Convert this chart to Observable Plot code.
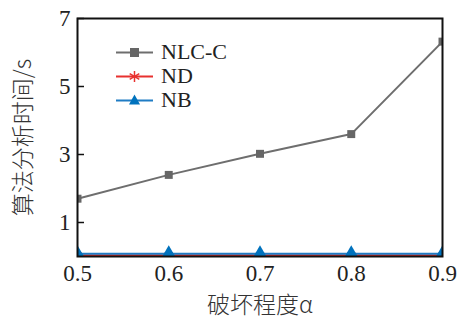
<!DOCTYPE html>
<html>
<head>
<meta charset="utf-8">
<script src="https://cdn.jsdelivr.net/npm/d3@7"></script>
<script src="https://cdn.jsdelivr.net/npm/@observablehq/plot@0.6"></script>
<style>
  html, body { margin: 0; padding: 0; background: #fff; }
  #wrap { position: relative; width: 463px; height: 320px; }
  #legend { position: absolute; left: 116px; top: 40px; font-family: "Liberation Serif", serif; font-size: 22px; color: #222; }
  #legend .row { display: flex; align-items: center; height: 24px; }
  #legend svg { margin-right: 8px; }
</style>
</head>
<body>
<div id="wrap"></div>
<script>
const alphas = [0.5, 0.6, 0.7, 0.8, 0.9];
const nlcc = [1.7, 2.4, 3.02, 3.6, 6.32];
const nd = [0.04, 0.04, 0.04, 0.04, 0.04];
const nb = [0.08, 0.08, 0.08, 0.08, 0.08];
const yTicks = [1, 3, 5, 7];
const xTicks = [0.5, 0.6, 0.7, 0.8, 0.9];

const seriesDefs = [
  {name: "NLC-C", values: nlcc, color: "#6e6e6e", fill: "#666666", symbol: "square"},
  {name: "ND", values: nd, color: "#e8312f", fill: "none", symbol: "asterisk"},
  {name: "NB", values: nb, color: "#1f7cc4", fill: "#0072bd", symbol: "triangle"}
];
const rows = seriesDefs.flatMap(s => alphas.map((a, i) => ({series: s.name, x: a, y: s.values[i]})));

const marks = [];
for (const s of seriesDefs) {
  const data = rows.filter(r => r.series === s.name);
  marks.push(Plot.line(data, {x: "x", y: "y", stroke: s.color, strokeWidth: 2, clip: true}));
}
for (const s of seriesDefs) {
  const data = rows.filter(r => r.series === s.name);
  marks.push(Plot.dot(data, {x: "x", y: "y", symbol: () => s.symbol, r: s.symbol === "triangle" ? 5.5 : 4.5,
    fill: s.fill === "none" ? null : s.fill, stroke: s.symbol === "asterisk" ? s.color : "none",
    strokeWidth: 1.5, clip: true}));
}

const cjk = '"Noto Sans CJK SC", sans-serif';
const chart = Plot.plot({
  width: 463,
  height: 320,
  marginLeft: 77,
  marginRight: 21,
  marginTop: 18,
  marginBottom: 64,
  style: {fontFamily: '"Liberation Serif", serif', fontSize: "22px", color: "#222", background: "#fff"},
  symbol: {type: "identity"},
  x: {domain: [0.5, 0.9]},
  y: {domain: [0, 7]},
  marks: [
    Plot.tickY(yTicks, {y: d => d, stroke: "#111", strokeWidth: 1.5, insetRight: 365 - 7}),
    Plot.axisY(yTicks, {tickSize: 0, tickPadding: 7, fontSize: 23, label: null}),
    Plot.axisY([], {tickSize: 0, label: "算法分析时间/s", labelAnchor: "center", labelArrow: "none", labelOffset: 63, fontSize: 23, fontFamily: cjk, fontWeight: 300, fill: "#333"}),
    Plot.axisX(xTicks, {tickSize: 0, tickPadding: 8, fontSize: 23, tickFormat: d => d.toFixed(1), label: null}),
    Plot.axisX([], {tickSize: 0, label: "破坏程度α", labelAnchor: "center", labelArrow: "none", labelOffset: 56, fontSize: 23, fontFamily: cjk, fontWeight: 300, fill: "#333"}),
    ...marks,
    Plot.frame({stroke: "#111", strokeWidth: 2})
  ]
});

const wrap = document.getElementById("wrap");
wrap.appendChild(chart);

const legend = document.createElement("div");
legend.id = "legend";
for (const s of seriesDefs) {
  const row = document.createElement("div");
  row.className = "row";
  let marker;
  if (s.symbol === "square") marker = `<rect x="14" y="7" width="9" height="9" fill="${s.fill}"/>`;
  else if (s.symbol === "asterisk") marker = `<g stroke="${s.color}" stroke-width="1.5"><line x1="18.5" y1="6" x2="18.5" y2="17"/><line x1="13.7" y1="8.7" x2="23.3" y2="14.3"/><line x1="13.7" y1="14.3" x2="23.3" y2="8.7"/></g>`;
  else marker = `<path d="M18.5,5.5 L24,15.5 L13,15.5 Z" fill="${s.fill}"/>`;
  row.innerHTML = `<svg width="37" height="23"><line x1="0" y1="11.5" x2="37" y2="11.5" stroke="${s.color}" stroke-width="2"/>${marker}</svg><span>${s.name}</span>`;
  legend.appendChild(row);
}
wrap.appendChild(legend);
</script>
</body>
</html>
